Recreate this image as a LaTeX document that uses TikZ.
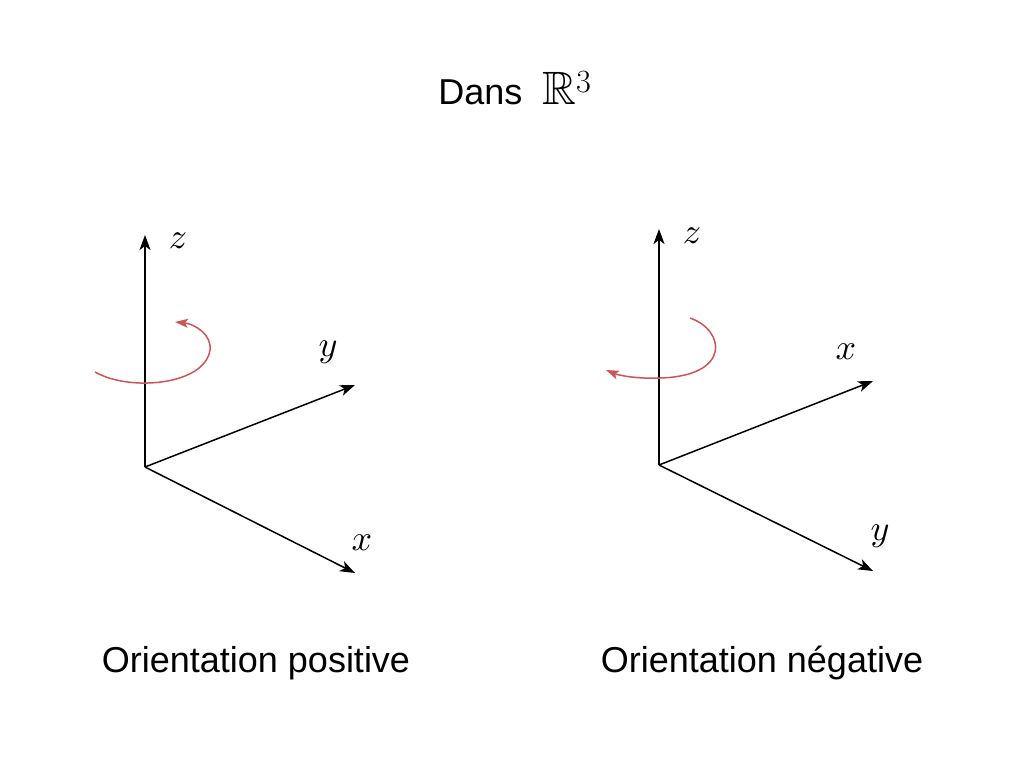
\documentclass[tikz,border=0pt]{standalone}
\usepackage{fontspec}
\usepackage{amssymb}
\setmainfont{Liberation Sans}
\usetikzlibrary{arrows.meta}
\definecolor{rotred}{RGB}{205,85,85}
\newcommand{\biglbl}[1]{\scalebox{3.6}{$#1$}}
\begin{document}
\begin{tikzpicture}[x=1pt,y=-1pt,
  axis/.style={draw=black,line width=1.5pt,-{Stealth[length=15pt,width=11pt,inset=4pt]}},
  rot/.style={draw=rotred,line width=1.5pt,-{Stealth[length=13pt,width=9pt,inset=3pt]}},
  captext/.style={font=\fontsize{36}{40}\selectfont}]
\useasboundingbox (0,0) rectangle (1024,768);
\node[captext] (title) at (515,88) {Dans \ \scalebox{1.3}{$\mathbb{R}^3$}};
% left
\coordinate (o1) at (145,467);
\coordinate (z1) at (145,235);
\coordinate (y1) at (355,385);
\coordinate (x1) at (355,573);
\draw[axis] (o1) -- (z1);
\draw[axis] (o1) -- (y1);
\draw[axis] (o1) -- (x1);
\node (lz1) at (178,241) {\biglbl{z}};
\node (ly1) at (328,352) {\biglbl{y}};
\node (lx1) at (362,543) {\biglbl{x}};
\coordinate (a1) at (95,372);
\coordinate (b1) at (210,350);
\coordinate (c1) at (175,322);
\draw[rot] (a1) .. controls (130,392) and (205,385) .. (b1) .. controls (212,335) and (195,324) .. (c1);
\node[captext] (cap1) at (256,663) {Orientation positive};
% right
\coordinate (o2) at (659,465);
\coordinate (z2) at (659,229);
\coordinate (x2) at (873,381);
\coordinate (y2) at (873,571);
\draw[axis] (o2) -- (z2);
\draw[axis] (o2) -- (x2);
\draw[axis] (o2) -- (y2);
\node (lz2) at (692,236) {\biglbl{z}};
\node (lx2) at (846,352) {\biglbl{x}};
\node (ly2) at (880,536) {\biglbl{y}};
\coordinate (a2) at (690,318);
\coordinate (b2) at (660,378);
\coordinate (c2) at (606,370);
\draw[rot] (a2) .. controls (725,330) and (732,376) .. (b2) .. controls (635,379) and (618,375) .. (c2);
\node[captext] (cap2) at (762,663) {Orientation négative};
\end{tikzpicture}
\end{document}
